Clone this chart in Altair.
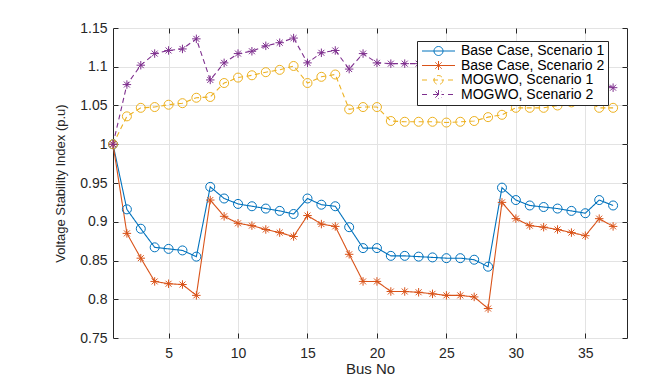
import altair as alt
import pandas as pd

# ---------------- data ----------------
bus = list(range(1, 38))
base_s1 = [1.000, 0.916, 0.891, 0.867, 0.865, 0.863, 0.855, 0.945, 0.930, 0.923,
           0.920, 0.917, 0.914, 0.910, 0.930, 0.922, 0.920, 0.893, 0.866, 0.866,
           0.856, 0.856, 0.855, 0.854, 0.853, 0.853, 0.851, 0.842, 0.944, 0.928,
           0.921, 0.919, 0.917, 0.914, 0.911, 0.928, 0.921]
base_s2 = [1.000, 0.885, 0.853, 0.823, 0.820, 0.819, 0.805, 0.928, 0.907, 0.898,
           0.895, 0.890, 0.886, 0.881, 0.908, 0.897, 0.894, 0.858, 0.823, 0.823,
           0.810, 0.810, 0.809, 0.807, 0.805, 0.805, 0.803, 0.788, 0.925, 0.904,
           0.895, 0.893, 0.890, 0.886, 0.882, 0.904, 0.894]
mogwo_s1 = [1.000, 1.036, 1.047, 1.048, 1.051, 1.053, 1.060, 1.061, 1.079, 1.086,
            1.089, 1.093, 1.096, 1.101, 1.079, 1.087, 1.090, 1.045, 1.048, 1.048,
            1.030, 1.029, 1.029, 1.029, 1.028, 1.029, 1.030, 1.035, 1.038, 1.047,
            1.047, 1.047, 1.050, 1.054, 1.057, 1.047, 1.047]
mogwo_s2 = [1.000, 1.077, 1.102, 1.117, 1.121, 1.123, 1.136, 1.083, 1.105, 1.117,
            1.120, 1.127, 1.131, 1.137, 1.105, 1.118, 1.121, 1.097, 1.117, 1.105,
            1.104, 1.104, 1.104, 1.103, 1.103, 1.102, 1.102, 1.098, 1.056, 1.080,
            1.090, 1.095, 1.100, 1.104, 1.110, 1.080, 1.073]

series_names = ["Base Case, Scenario 1", "Base Case, Scenario 2",
                "MOGWO, Scenario 1", "MOGWO, Scenario 2"]
series_colors = ["#0072BD", "#D95319", "#EDB120", "#7E2F8E"]
x_ticks = [5, 10, 15, 20, 25, 30, 35]
y_ticks = [0.75, 0.8, 0.85, 0.9, 0.95, 1.0, 1.05, 1.1, 1.15]

rows = []
for name, vals in zip(series_names, [base_s1, base_s2, mogwo_s1, mogwo_s2]):
    for b, v in zip(bus, vals):
        rows.append({"bus": b, "vsi": v, "series": name})
df = pd.DataFrame(rows)

# ---------------- marker / legend symbol paths ----------------
STAR = "M-1,0L1,0M0,-1L0,1M-0.7,-0.7L0.7,0.7M-0.7,0.7L0.7,-0.7"

UNIT = 6.0  # legend symbolSize 144 -> 12px box -> 6px per path unit


def u(px):
    return round(px / UNIT, 3)


LINE_L, LINE_R, MK_C, MK_R = -5.0, 28.0, 11.5, 4.5


def line_path(dashed):
    if not dashed:
        return f"M{u(LINE_L)},0L{u(LINE_R)},0"
    segs = [(0, 7), (11, 22), (26, 33)]
    return "".join(f"M{u(LINE_L + a)},0L{u(LINE_L + b)},0" for a, b in segs)


def circle_path():
    c, r = u(MK_C), u(MK_R)
    return f"M{round(c - r, 3)},0A{r},{r} 0 1,0 {round(c + r, 3)},0A{r},{r} 0 1,0 {round(c - r, 3)},0"


def star_path():
    c, r = u(MK_C), u(MK_R)
    d = round(r * 0.7, 3)
    return (f"M{round(c - r, 3)},0L{round(c + r, 3)},0M{c},{-r}L{c},{r}"
            f"M{round(c - d, 3)},{-d}L{round(c + d, 3)},{d}M{round(c - d, 3)},{d}L{round(c + d, 3)},{-d}")


legend_shapes = [line_path(False) + circle_path(), line_path(False) + star_path(),
                 line_path(True) + circle_path(), line_path(True) + star_path()]

# ---------------- encodings ----------------
legend = alt.Legend(title=None, orient="none", legendX=304, legendY=13,
                    fillColor="white", strokeColor="#262626", padding=3,
                    rowPadding=0.5, symbolSize=144, symbolStrokeWidth=1,
                    symbolOpacity=1, labelOffset=27, labelLimit=400,
                    labelFontSize=14, labelFont="Liberation Sans", labelColor="#000000")

color_enc = alt.Color("series:N", scale=alt.Scale(domain=series_names, range=series_colors),
                      legend=legend)

x_scale = alt.Scale(domain=[1, 38], nice=False, zero=False)
y_scale = alt.Scale(domain=[0.75, 1.15], nice=False, zero=False)

x_main = alt.X("bus:Q", scale=x_scale,
               axis=alt.Axis(values=x_ticks, title="Bus No", grid=True, ticks=False,
                             domain=False, labelPadding=8, titleY=30,
                             titleBaseline="middle", titleFontSize=15))
y_main = alt.Y("vsi:Q", scale=y_scale,
               axis=alt.Axis(values=y_ticks, title="Voltage Stability Index (p.u)",
                             grid=True, ticks=False, domain=False, labelPadding=6,
                             labelExpr="format(datum.value, '.2~f')",
                             titleX=-53, titleY=155, titleAngle=270,
                             titleAlign="center", titleBaseline="middle",
                             titleFontSize=13))


def inner_axis(orient, values):
    return alt.Axis(orient=orient, offset=-5, tickSize=5, values=values, labels=False,
                    grid=False, domain=False, title=None, tickColor="#262626", tickWidth=1)


x_in_bottom = alt.X("bus:Q", scale=x_scale, axis=inner_axis("bottom", x_ticks))
y_in_left = alt.Y("vsi:Q", scale=y_scale, axis=inner_axis("left", y_ticks))
x_in_top = alt.X("bus:Q", scale=x_scale, axis=inner_axis("top", x_ticks))
y_in_right = alt.Y("vsi:Q", scale=y_scale, axis=inner_axis("right", y_ticks))
x_none = alt.X("bus:Q", scale=x_scale, axis=None)
y_none = alt.Y("vsi:Q", scale=y_scale, axis=None)

lines = alt.Chart(df).mark_line(strokeWidth=1.1).encode(
    x=x_main, y=y_main, color=color_enc,
    strokeDash=alt.StrokeDash("series:N",
                              scale=alt.Scale(domain=series_names,
                                              range=[[1, 0], [1, 0], [5, 3.5], [5, 3.5]]),
                              legend=None))

circles = alt.Chart(df).transform_filter(
    alt.FieldOneOfPredicate(field="series", oneOf=[series_names[0], series_names[2]])
).mark_point(shape="circle", filled=False, size=81, strokeWidth=1, opacity=1).encode(
    x=x_in_bottom, y=y_in_left, color=color_enc)

stars = alt.Chart(df).transform_filter(
    alt.FieldOneOfPredicate(field="series", oneOf=[series_names[1], series_names[3]])
).mark_point(shape=STAR, filled=False, size=72, strokeWidth=1, opacity=1).encode(
    x=x_in_top, y=y_in_right, color=color_enc)

legend_driver = alt.Chart(df).mark_point(filled=False, opacity=0).encode(
    x=x_none, y=y_none, color=color_enc,
    shape=alt.Shape("series:N", scale=alt.Scale(domain=series_names, range=legend_shapes),
                    legend=legend))

chart = alt.layer(lines, circles, stars, legend_driver).resolve_axis(
    x="independent", y="independent"
).properties(
    width=514, height=310,
    autosize=alt.AutoSizeParams(type="none"),
    padding={"left": 105, "top": 20, "right": 20, "bottom": 38},
).configure_view(
    stroke="#262626", strokeWidth=1
).configure_axis(
    labelFont="Liberation Sans", labelFontSize=14, labelColor="#262626",
    titleFont="Liberation Sans", titleColor="#262626", titleFontWeight="normal",
    gridColor="#E3E3E3", gridWidth=1
)

chart.save("out.html", embed_options={"renderer": "svg", "actions": False})
